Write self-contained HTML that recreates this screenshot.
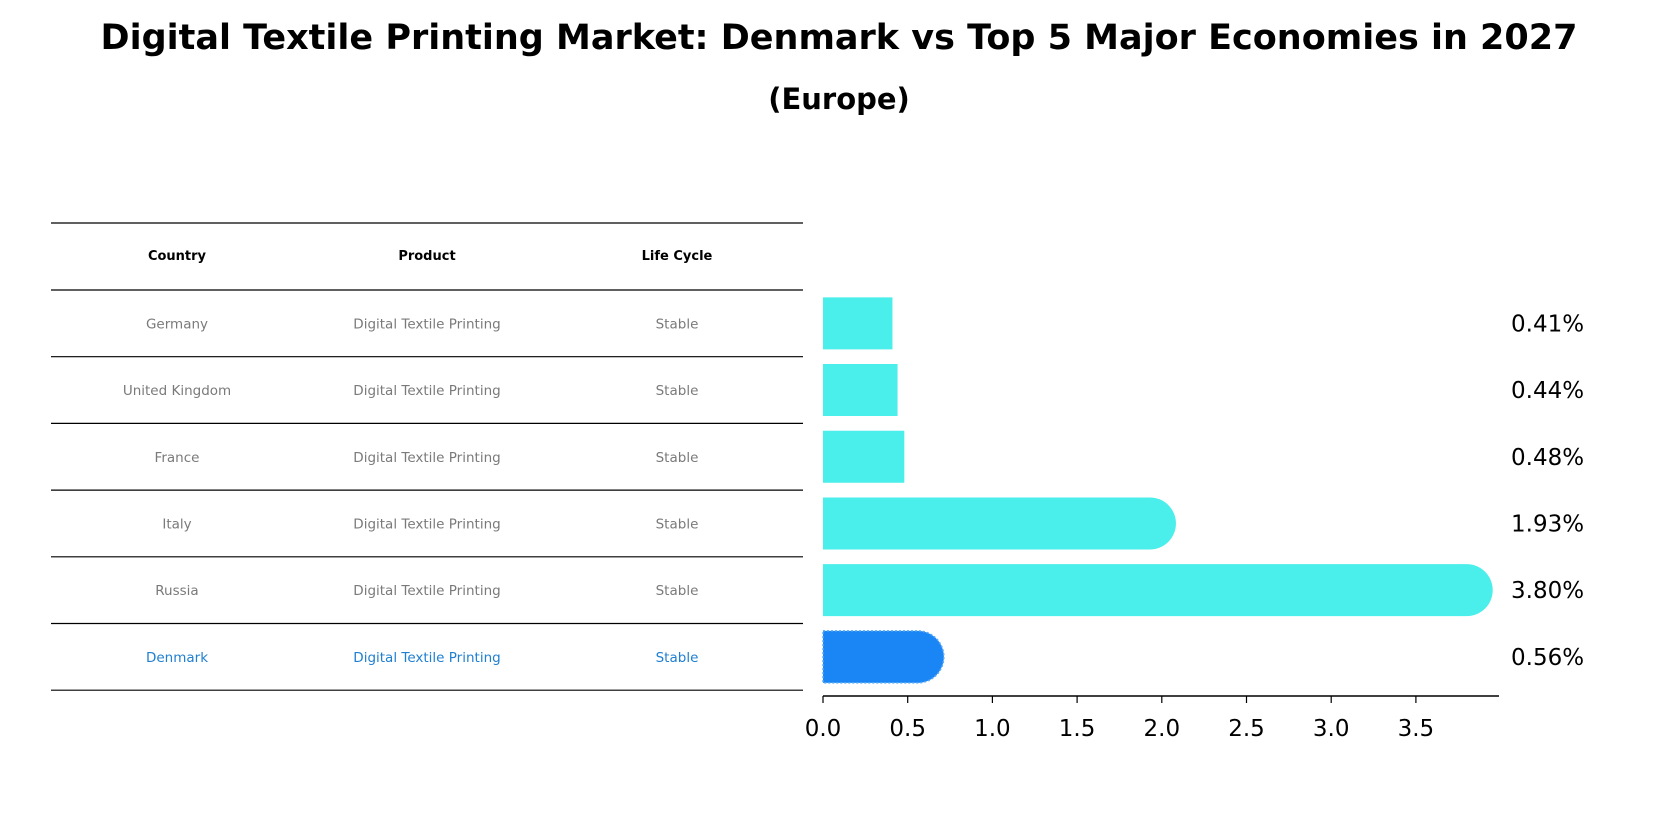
<!DOCTYPE html>
<html><head><meta charset="utf-8"><style>
body{margin:0;background:#fff;font-family:"DejaVu Sans","Liberation Sans",sans-serif;}
</style></head><body>
<svg width="1678" height="823" viewBox="0 0 1678 823" xmlns="http://www.w3.org/2000/svg">
<text x="839" y="49" text-anchor="middle" font-size="35" font-weight="bold" font-family="DejaVu Sans, sans-serif">Digital Textile Printing Market: Denmark vs Top 5 Major Economies in 2027</text>
<text x="839" y="109" text-anchor="middle" font-size="29" font-weight="bold" font-family="DejaVu Sans, sans-serif">(Europe)</text>
<g id="table"></g>
<g id="bars"></g>
<g id="axis"></g>
</svg>
<script>
const countries=["Germany","United Kingdom","France","Italy","Russia","Denmark"];
const products=["Digital Textile Printing","Digital Textile Printing","Digital Textile Printing","Digital Textile Printing","Digital Textile Printing","Digital Textile Printing"];
const lifeCycles=["Stable","Stable","Stable","Stable","Stable","Stable"];
const values=[0.41,0.44,0.48,1.93,3.80,0.56];
const valueLabels=["0.41%","0.44%","0.48%","1.93%","3.80%","0.56%"];
const ticks=[0,0.5,1.0,1.5,2.0,2.5,3.0,3.5];
const tickLabels=["0.0","0.5","1.0","1.5","2.0","2.5","3.0","3.5"];
const NS="http://www.w3.org/2000/svg";
function mk(t,a,p){const e=document.createElementNS(NS,t);for(const k in a)e.setAttribute(k,a[k]);p.appendChild(e);return e;}
const x0=823,ppu=169.4;
const xs=v=>x0+v*ppu;
const rowTop=290,rowH=66.7;
const yc=i=>rowTop+rowH*(i+0.5);
// table
const tb=document.getElementById('table');
const lineYs=[223];for(let i=0;i<=countries.length;i++)lineYs.push(rowTop+rowH*i);
lineYs.forEach(y=>{const l=mk('line',{x1:51,x2:803,y1:y,y2:y,stroke:'#000','stroke-width':1.2},tb);

});
const colX=[177,427,677];
["Country","Product","Life Cycle"].forEach((h,j)=>{const t=mk('text',{x:colX[j],y:260,'text-anchor':'middle','font-size':13,'font-weight':'bold'},tb);t.textContent=h;

});
countries.forEach((c,i)=>{const col=i===countries.length-1?'#1f7fd0':'#7a7a7a';
[c,products[i],lifeCycles[i]].forEach((s,j)=>{const t=mk('text',{x:colX[j],y:yc(i)+5,'text-anchor':'middle','font-size':13.5,fill:col},tb);t.textContent=s;

});});
// bars
const bg=document.getElementById('bars');const bh=52;
values.forEach((v,i)=>{const isD=i===values.length-1;const fill=isD?'#1a86f5':'#4aeeea';
const y=yc(i)-bh/2;const w=xs(v)-x0;const cap=(v>=1||isD);
let d;
if(cap){d=`M${x0},${y}H${x0+w}A${bh/2},${bh/2} 0 0 1 ${x0+w},${y+bh}H${x0}Z`;}
else d=`M${x0},${y}H${x0+w}V${y+bh}H${x0}Z`;
const p=mk('path',{d:d,fill:fill},bg);
if(isD){p.setAttribute('stroke','#5aaaf8');p.setAttribute('stroke-dasharray','2 2');p.setAttribute('stroke-width','1.5');}


const t=mk('text',{x:1511,y:yc(i)+8,'font-size':23},bg);t.textContent=valueLabels[i];

});
// axis
const ax=document.getElementById('axis');
const al=mk('line',{x1:x0,x2:1499,y1:696,y2:696,stroke:'#000','stroke-width':1.5},ax);


ticks.forEach((v,i)=>{const l=mk('line',{x1:xs(v),x2:xs(v),y1:696,y2:703,stroke:'#000','stroke-width':1.2},ax);


const t=mk('text',{x:xs(v),y:736,'text-anchor':'middle','font-size':23},ax);t.textContent=tickLabels[i];

});
</script>
</body></html>
